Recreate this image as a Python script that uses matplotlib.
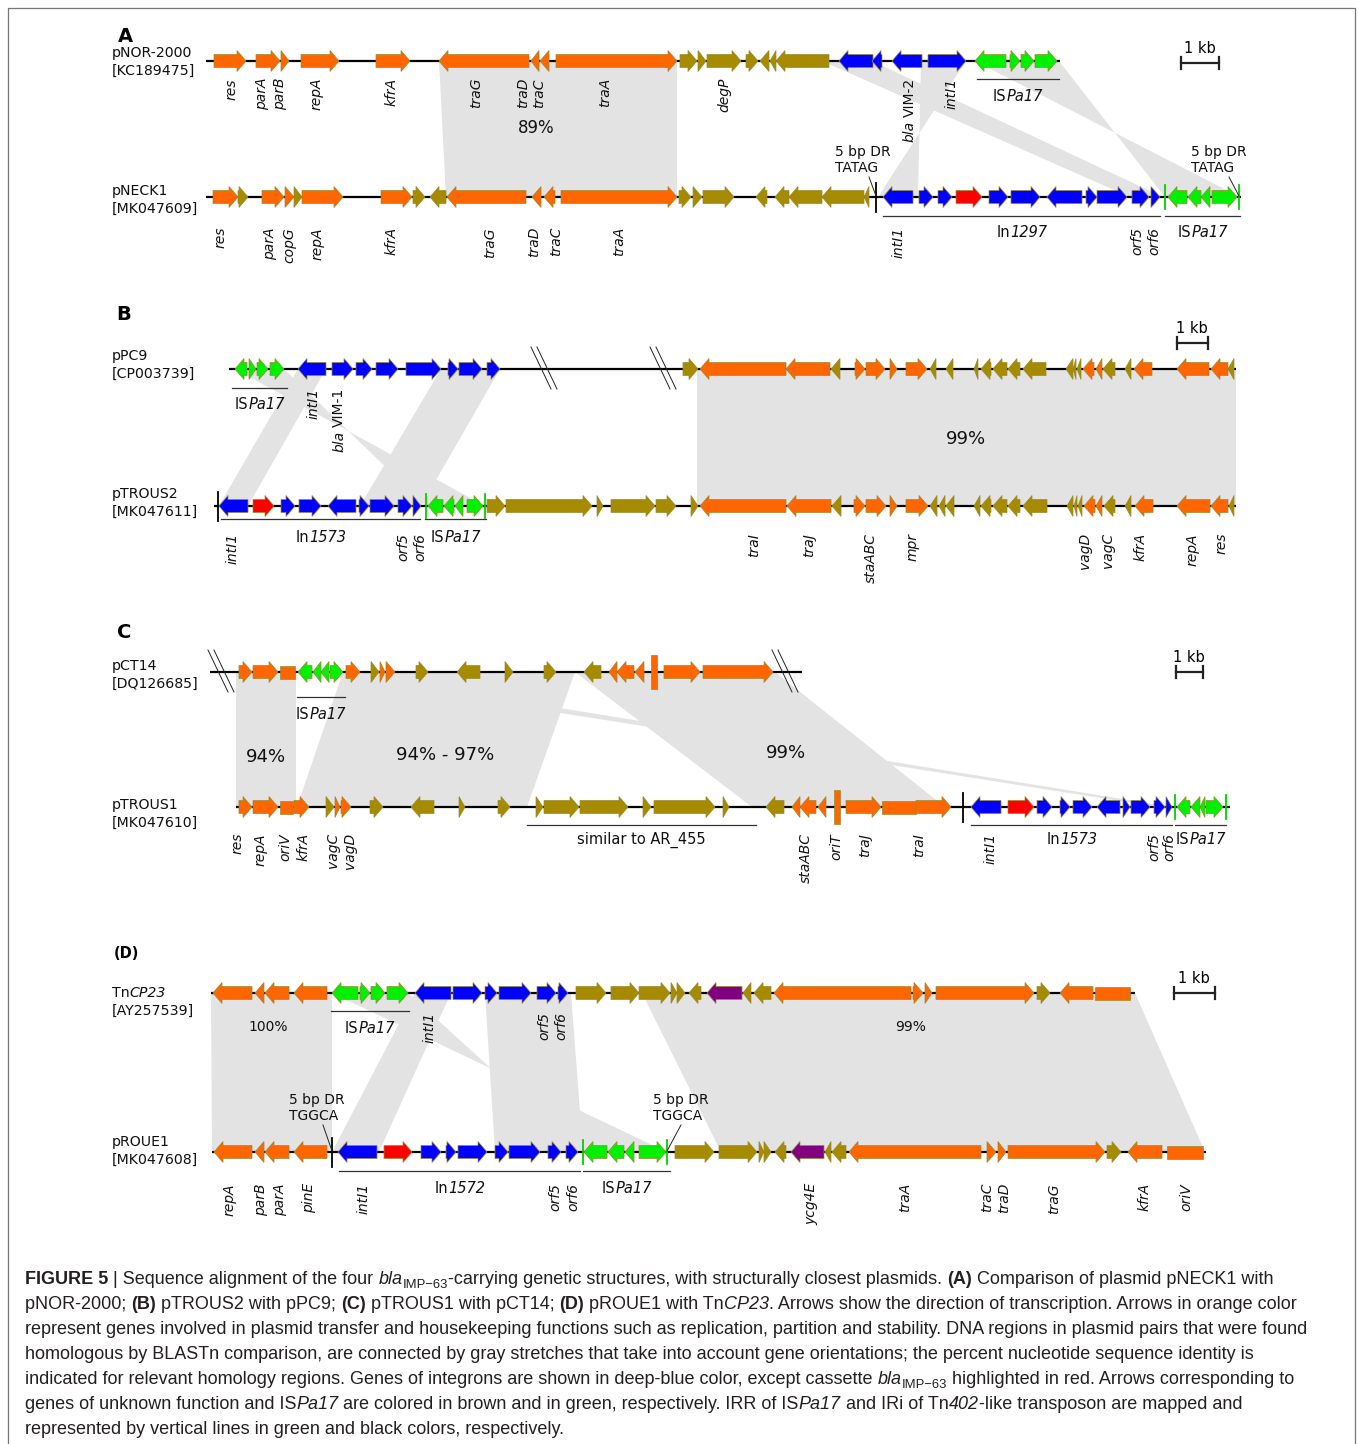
import matplotlib.pyplot as plt
from matplotlib.patches import Polygon

plt.rcParams['font.family'] = ['DejaVu Sans']

# gene classes
COLORS = {'o': '#FF6600',   # transfer / housekeeping
          'b': '#A68A00',   # unknown function
          'n': '#0000FF',   # integron genes
          'r': '#FF0000',   # blaIMP-63 cassette
          'g': '#00F000',   # ISPa17
          'p': '#800080'}
EDGE = '#9A8A30'

# ---------------- data: genes as (start, end, strand, class) in map units -------------
# strand 1 / -1 = arrow, 0 = box, 9 = oriT site bar
pNOR2000 = [(214, 246, 1, 'o'), (256, 280, 1, 'o'), (281, 289, 1, 'o'), (301, 339, 1, 'o'),
            (376, 410, 1, 'o'), (439, 529, -1, 'o'), (531, 539, -1, 'o'), (540, 549, -1, 'o'),
            (556, 677, 1, 'o'), (680, 697, 1, 'b'), (698, 706, 1, 'b'), (707, 741, 1, 'b'),
            (746, 758, 1, 'b'), (760, 769, -1, 'b'), (770, 776, -1, 'b'), (776, 829, -1, 'b'),
            (839, 873, -1, 'n'), (872, 882, -1, 'n'), (892, 922, -1, 'n'), (928, 966, 1, 'n'),
            (975, 1006, -1, 'g'), (1010, 1020, 1, 'g'), (1021, 1034, 1, 'g'), (1035, 1057, 1, 'g')]
pNECK1 = [(213, 238, 1, 'o'), (238, 248, 1, 'b'), (262, 284, 1, 'o'), (285, 294, 1, 'o'),
          (294, 302, 1, 'b'), (302, 343, 1, 'o'), (381, 412, 1, 'o'), (413, 425, 1, 'b'),
          (430, 446, -1, 'b'), (447, 526, -1, 'o'), (532, 541, -1, 'o'), (544, 555, -1, 'o'),
          (561, 677, 1, 'o'), (679, 691, 1, 'b'), (693, 702, 1, 'b'), (703, 734, 1, 'b'),
          (756, 767, -1, 'b'), (775, 789, -1, 'b'), (789, 822, -1, 'b'), (822, 864, -1, 'b'),
          (864, 869, -1, 'b'), (883, 913, -1, 'n'), (919, 933, 1, 'n'), (938, 952, 1, 'n'),
          (956, 982, 1, 'r'), (989, 1008, 1, 'n'), (1011, 1040, 1, 'n'), (1047, 1082, -1, 'n'),
          (1086, 1097, 1, 'n'), (1097, 1127, 1, 'n'), (1132, 1149, 1, 'n'), (1151, 1160, 1, 'n'),
          (1168, 1187, -1, 'g'), (1188, 1201, -1, 'g'), (1201, 1210, -1, 'g'), (1212, 1237, 1, 'g')]
pPC9 = [(235, 247, -1, 'g'), (249, 256, 1, 'g'), (257, 268, 1, 'g'), (270, 284, 1, 'g'),
        (298, 326, -1, 'n'), (332, 353, 1, 'n'), (356, 372, 1, 'n'), (376, 398, 1, 'n'),
        (406, 441, 1, 'n'), (448, 458, 1, 'n'), (459, 482, 1, 'n'), (487, 500, 1, 'n'),
        (683, 698, 1, 'b'), (700, 786, -1, 'o'), (786, 830, -1, 'o'), (831, 840, -1, 'b'),
        (855, 865, 1, 'o'), (866, 885, 1, 'o'), (890, 897, 1, 'o'), (906, 927, 1, 'o'),
        (930, 936, -1, 'b'), (946, 953, -1, 'b'), (974, 978, -1, 'b'), (981, 991, -1, 'b'),
        (993, 1007, -1, 'b'), (1008, 1020, -1, 'b'), (1023, 1046, -1, 'b'), (1066, 1073, -1, 'b'),
        (1073, 1076, -1, 'b'), (1077, 1081, -1, 'b'), (1083, 1094, -1, 'o'), (1096, 1102, -1, 'o'),
        (1103, 1115, -1, 'b'), (1125, 1131, -1, 'b'), (1134, 1152, -1, 'o'), (1177, 1209, -1, 'o'),
        (1211, 1228, -1, 'o'), (1228, 1234, -1, 'b')]
pTROUS2 = [(219, 248, -1, 'n'), (253, 274, 1, 'r'), (281, 295, 1, 'n'), (299, 321, 1, 'n'),
           (328, 356, -1, 'n'), (359, 369, 1, 'n'), (370, 394, 1, 'n'), (398, 412, 1, 'n'),
           (413, 421, 1, 'n'), (428, 443, -1, 'g'), (444, 454, -1, 'g'), (455, 463, -1, 'g'),
           (467, 483, 1, 'g'), (487, 505, 1, 'b'), (506, 592, 1, 'b'), (597, 603, 1, 'b'),
           (611, 655, 1, 'b'), (656, 676, 1, 'b'), (691, 698, 1, 'b'), (700, 786, -1, 'o'),
           (787, 831, -1, 'o'), (832, 841, -1, 'b'), (854, 865, 1, 'o'), (866, 886, 1, 'o'),
           (890, 897, 1, 'o'), (906, 928, 1, 'o'), (930, 937, -1, 'b'), (939, 945, -1, 'b'),
           (946, 954, -1, 'b'), (974, 980, -1, 'b'), (981, 991, -1, 'b'), (993, 1007, -1, 'b'),
           (1008, 1020, -1, 'b'), (1023, 1047, -1, 'b'), (1067, 1073, -1, 'b'), (1074, 1077, -1, 'b'),
           (1078, 1082, -1, 'b'), (1084, 1095, -1, 'o'), (1096, 1102, -1, 'o'), (1104, 1115, -1, 'b'),
           (1125, 1131, -1, 'b'), (1135, 1153, -1, 'o'), (1177, 1210, -1, 'o'), (1211, 1228, -1, 'o'),
           (1229, 1234, -1, 'b')]
pCT14 = [(239, 252, 1, 'o'), (253, 278, 1, 'o'), (280, 295, 0, 'o'), (298, 312, -1, 'g'),
         (313, 321, -1, 'g'), (321, 329, -1, 'g'), (330, 343, 1, 'g'), (346, 360, 1, 'o'),
         (371, 379, 1, 'b'), (380, 385, 1, 'o'), (386, 395, 1, 'o'), (416, 428, 1, 'b'),
         (457, 480, -1, 'b'), (505, 513, 1, 'b'), (544, 556, 1, 'b'), (584, 601, -1, 'b'),
         (609, 617, -1, 'o'), (617, 634, -1, 'o'), (635, 644, -1, 'o'), (651, 657, 9, 'o'),
         (664, 700, 1, 'o'), (703, 773, 1, 'o')]
pTROUS1 = [(239, 252, 1, 'o'), (253, 278, 1, 'o'), (280, 293, 0, 'o'), (294, 309, 1, 'o'),
           (326, 334, 1, 'b'), (335, 340, 1, 'o'), (341, 351, 1, 'o'), (370, 383, 1, 'b'),
           (411, 434, -1, 'b'), (459, 465, 1, 'b'), (498, 510, 1, 'b'), (536, 543, 1, 'b'),
           (544, 579, 1, 'b'), (580, 628, 1, 'b'), (643, 651, 1, 'b'), (654, 715, 1, 'b'),
           (723, 729, 1, 'b'), (766, 784, -1, 'b'), (792, 800, -1, 'o'), (800, 816, -1, 'o'),
           (818, 826, -1, 'o'), (834, 840, 9, 'o'), (846, 881, 1, 'o'), (882, 916, 0, 'o'),
           (916, 951, 1, 'o'), (971, 1001, -1, 'n'), (1008, 1034, 1, 'r'), (1037, 1052, 1, 'n'),
           (1060, 1070, 1, 'n'), (1073, 1092, 1, 'n'), (1097, 1120, -1, 'n'), (1123, 1130, 1, 'n'),
           (1131, 1150, 1, 'n'), (1154, 1165, 1, 'n'), (1166, 1172, 1, 'n'), (1177, 1190, -1, 'g'),
           (1191, 1200, -1, 'g'), (1200, 1205, -1, 'g'), (1206, 1223, 1, 'g')]
TnCP23 = [(213, 252, -1, 'o'), (255, 264, -1, 'o'), (265, 289, -1, 'o'), (294, 327, -1, 'o'),
          (332, 358, -1, 'g'), (360, 370, 1, 'g'), (371, 385, 1, 'g'), (387, 408, 1, 'g'),
          (415, 451, -1, 'n'), (453, 482, 1, 'n'), (485, 497, 1, 'n'), (499, 531, 1, 'n'),
          (537, 556, 1, 'n'), (558, 568, 1, 'n'), (576, 606, 1, 'b'), (611, 639, 1, 'b'),
          (639, 670, 1, 'b'), (671, 677, 1, 'b'), (677, 685, 1, 'b'), (689, 701, -1, 'b'),
          (707, 742, -1, 'p'), (743, 751, -1, 'b'), (754, 771, -1, 'b'), (774, 911, -1, 'o'),
          (913, 923, 1, 'o'), (925, 932, 1, 'o'), (936, 1034, 1, 'o'), (1037, 1050, 1, 'b'),
          (1060, 1093, -1, 'o'), (1095, 1130, 0, 'o')]
pROUE1 = [(214, 252, -1, 'o'), (255, 264, -1, 'o'), (265, 289, -1, 'o'), (294, 327, -1, 'o'),
          (338, 377, -1, 'n'), (384, 412, 1, 'r'), (421, 441, 1, 'n'), (446, 456, 1, 'n'),
          (458, 487, 1, 'n'), (495, 508, 1, 'n'), (509, 540, 1, 'n'), (548, 561, 1, 'n'),
          (566, 578, 1, 'n'), (584, 607, -1, 'g'), (608, 624, -1, 'g'), (625, 634, -1, 'g'),
          (639, 666, 1, 'g'), (675, 714, 1, 'b'), (719, 757, 1, 'b'), (759, 764, 1, 'b'),
          (764, 771, 1, 'b'), (775, 786, -1, 'b'), (791, 824, -1, 'p'), (825, 831, -1, 'b'),
          (832, 846, -1, 'b'), (849, 981, -1, 'o'), (987, 996, 1, 'o'), (998, 1006, 1, 'o'),
          (1008, 1105, 1, 'o'), (1107, 1121, 1, 'b'), (1128, 1162, -1, 'o'), (1167, 1203, 0, 'o')]

# inverted repeats (IRR of ISPa17 green, IRi black)
IR_pNECK1 = [(876, 'k'), (1165, 'g'), (1239, 'g')]
IR_pTROUS2 = [(218, 'k'), (426, 'g'), (485, 'g')]
IR_pTROUS1 = [(963, 'k'), (1175, 'g'), (1226, 'g')]
IR_pROUE1 = [(332, 'k'), (583, 'g'), (667, 'g')]

# BLASTn homologies: (top start, top end, bottom start, bottom end, inverted)
HOM_A = [(439, 677, 446, 677, False), (822, 872, 1130, 1163, False),
         (921, 966, 878, 918, True), (975, 1059, 1165, 1240, True)]
HOM_B = [(697, 1236, 697, 1236, False), (298, 326, 219, 248, False),
         (441, 500, 360, 421, False), (235, 284, 426, 485, True)]
HOM_C = [(236, 296, 236, 296, False), (343, 575, 297, 527, False),
         (300, 337, 1158, 1172, False), (575, 775, 752, 945, False)]
HOM_D = [(211, 332, 212, 332, False), (415, 451, 332, 379, False),
         (332, 408, 583, 667, True), (485, 571, 495, 583, False),
         (642, 1135, 721, 1205, False)]

IDENT_A = [('89%', 536, 128, 12)]
IDENT_B = [('99%', 966, 439, 13)]
IDENT_C = [('94%', 266, 757, 13), ('94% - 97%', 445, 755, 13), ('99%', 786, 753, 13)]
IDENT_D = [('100%', 268, 1027, 10), ('99%', 911, 1027, 10)]

# gene names (rotated, italic); "bla " prefix -> italic bla + roman allele
NAMES_pNOR2000 = [('res', 232), ('parA', 262), ('parB', 280), ('repA', 317), ('kfrA', 392),
                  ('traG', 476), ('traD', 523), ('traC', 539), ('traA', 605), ('degP', 724),
                  ('bla VIM-2', 910), ('intI1', 952)]
NAMES_pNECK1 = [('res', 221), ('parA', 270), ('copG', 289), ('repA', 318), ('kfrA', 392),
                ('traG', 490), ('traD', 534), ('traC', 556), ('traA', 619), ('intI1', 899),
                ('orf5', 1137), ('orf6', 1154)]
NAMES_pPC9 = [('intI1', 314), ('bla VIM-1', 339)]
NAMES_pTROUS2 = [('intI1', 233), ('orf5', 403), ('orf6', 420), ('traI', 754), ('traJ', 809),
                 ('staABC', 871), ('mpr', 913), ('vagD', 1085), ('vagC', 1108), ('kfrA', 1141),
                 ('repA', 1193), ('res', 1222)]
NAMES_pCT14 = []
NAMES_pTROUS1 = [('res', 238), ('repA', 261), ('oriV', 285), ('kfrA', 304), ('vagC', 333),
                 ('vagD', 350), ('staABC', 806), ('oriT', 836), ('traJ', 865), ('traI', 919),
                 ('intI1', 991), ('orf5', 1154), ('orf6', 1169)]
NAMES_TnCP23 = [('intI1', 430), ('orf5', 544), ('orf6', 561)]
NAMES_pROUE1 = [('repA', 230), ('parB', 261), ('parA', 280), ('pinE', 309), ('intI1', 364),
                ('orf5', 555), ('orf6', 573), ('ycg4E', 811), ('traA', 905), ('traC', 987),
                ('traD', 1004), ('traG', 1054), ('kfrA', 1145), ('oriV', 1186)]

# underlined elements: (label parts, start, end); part style 'n' roman, 'i' italic
IS = [('IS', 'n'), ('Pa17', 'i')]
ELEM_pNOR2000 = [(IS, 977, 1059)]
ELEM_pNECK1 = [([('In', 'n'), ('1297', 'i')], 883, 1160), (IS, 1165, 1240)]
ELEM_pPC9 = [(IS, 232, 287)]
ELEM_pTROUS2 = [([('In', 'n'), ('1573', 'i')], 221, 420), (IS, 425, 486)]
ELEM_pCT14 = [(IS, 297, 345)]
ELEM_pTROUS1 = [([('similar to AR_455', 'n')], 527, 756),
                ([('In', 'n'), ('1573', 'i')], 971, 1172), (IS, 1175, 1226)]
ELEM_TnCP23 = [(IS, 331, 409)]
ELEM_pROUE1 = [([('In', 'n'), ('1572', 'i')], 339, 580), (IS, 583, 670)]

# ---------------- layout -------------
# name parts, accession, genes, names, elements, line y, line start/end,
# name y, gene-name top y, underline y, element label y, IR marks, breaks
TRACKS = [
    ([('pNOR-2000', 'n')], 'KC189475', pNOR2000, NAMES_pNOR2000, ELEM_pNOR2000,
     61, 206, 1060, 62, 78, 79, 96, [], []),
    ([('pNECK1', 'n')], 'MK047609', pNECK1, NAMES_pNECK1, ELEM_pNECK1,
     197, 206, 1241, 200, 227, 216, 232, IR_pNECK1, []),
    ([('pPC9', 'n')], 'CP003739', pPC9, NAMES_pPC9, ELEM_pPC9,
     369, 229, 1236, 365, 388, 388, 404, [], [544, 663]),
    ([('pTROUS2', 'n')], 'MK047611', pTROUS2, NAMES_pTROUS2, ELEM_pTROUS2,
     506, 214, 1236, 503, 533, 519, 537, IR_pTROUS2, []),
    ([('pCT14', 'n')], 'DQ126685', pCT14, NAMES_pCT14, ELEM_pCT14,
     672, 210, 802, 675, 700, 697, 714, [], [221, 785]),
    ([('pTROUS1', 'n')], 'MK047610', pTROUS1, NAMES_pTROUS1, ELEM_pTROUS1,
     807, 236, 1230, 814, 833, 825, 839, IR_pTROUS1, []),
    ([('Tn', 'n'), ('CP23', 'i')], 'AY257539', TnCP23, NAMES_TnCP23, ELEM_TnCP23,
     993, 211, 1135, 1002, 1012, 1011, 1028, [], []),
    ([('pROUE1', 'n')], 'MK047608', pROUE1, NAMES_pROUE1, ELEM_pROUE1,
     1152, 212, 1206, 1151, 1183, 1171, 1188, IR_pROUE1, []),
]
PANELS = [('A', 125, 36, 14, HOM_A, IDENT_A, 0, 1200, 38, 2),
          ('B', 124, 315, 14, HOM_B, IDENT_B, 2, 1192, 31, -26),
          ('C', 124, 633, 14, HOM_C, IDENT_C, 4, 1189, 27, 0),
          ('(D)', 126, 953, 10.5, HOM_D, IDENT_D, 6, 1194, 41, 0)]
DR_NOTES = [('5 bp DR\nTATAG', 835, 145, (869, 177), (876, 196)),
            ('5 bp DR\nTATAG', 1191, 145, (1229, 177), (1239, 196)),
            ('5 bp DR\nTGGCA', 289, 1093, (323, 1125), (332, 1151)),
            ('5 bp DR\nTGGCA', 653, 1093, (681, 1125), (667, 1151))]

CAPTION = [
    [('FIGURE 5', 'b'), (' | Sequence alignment of the four ', 'n'), ('bla', 'i'), ('IMP\u221263', 's'),
     ('-carrying genetic structures, with structurally closest plasmids. ', 'n'), ('(A)', 'b'),
     (' Comparison of plasmid pNECK1 with', 'n')],
    [('pNOR-2000; ', 'n'), ('(B)', 'b'), (' pTROUS2 with pPC9; ', 'n'), ('(C)', 'b'),
     (' pTROUS1 with pCT14; ', 'n'), ('(D)', 'b'), (' pROUE1 with Tn', 'n'), ('CP23', 'i'),
     ('. Arrows show the direction of transcription. Arrows in orange color', 'n')],
    [('represent genes involved in plasmid transfer and housekeeping functions such as replication, '
      'partition and stability. DNA regions in plasmid pairs that were found', 'n')],
    [('homologous by BLASTn comparison, are connected by gray stretches that take into account gene '
      'orientations; the percent nucleotide sequence identity is', 'n')],
    [('indicated for relevant homology regions. Genes of integrons are shown in deep-blue color, '
      'except cassette ', 'n'), ('bla', 'i'), ('IMP\u221263', 's'),
     (' highlighted in red. Arrows corresponding to', 'n')],
    [('genes of unknown function and IS', 'n'), ('Pa17', 'i'),
     (' are colored in brown and in green, respectively. IRR of IS', 'n'), ('Pa17', 'i'),
     (' and IRi of Tn', 'n'), ('402', 'i'), ('-like transposon are mapped and', 'n')],
    [('represented by vertical lines in green and black colors, respectively.', 'n')],
]

BODY, HEADW, HEADL = 6.5, 10.5, 9

fig = plt.figure(figsize=(13.58, 14.44), dpi=100, facecolor='white')
ax = fig.add_axes([0, 0, 1, 1])
ax.set_xlim(0, 1358)
ax.set_ylim(1444, 0)
ax.axis('off')
R = fig.canvas.get_renderer()


def seg_style(code, size, family):
    kw = dict(fontsize=size, family=family)
    if code == 'i':
        kw['style'] = 'italic'
    elif code == 'b':
        kw['fontweight'] = 'bold'
    elif code == 's':
        kw['fontsize'] = size * 0.72
    return kw


def width(s, **kw):
    # measure with a trailing bar so that spaces count
    t = ax.text(0, 0, s + '|', **kw)
    w1 = t.get_window_extent(R).width
    t.set_text('|')
    w2 = t.get_window_extent(R).width
    t.remove()
    return w1 - w2


def mixed(x, y, parts, size=10.5, family='DejaVu Sans', ha='center', color='#111111', sub=4):
    ws = [width(s, **seg_style(c, size, family)) for s, c in parts]
    x0 = x - sum(ws) / 2 if ha == 'center' else x
    for (s, c), w in zip(parts, ws):
        dy = sub if c == 's' else 0
        ax.text(x0, y + dy, s, ha='left', va='baseline', color=color,
                **seg_style(c, size, family))
        x0 += w


def draw_gene(x0, x1, y, strand, kind):
    hl = min(HEADL, x1 - x0)
    if strand == 1:
        pts = [(x0, y - BODY), (x1 - hl, y - BODY), (x1 - hl, y - HEADW), (x1, y),
               (x1 - hl, y + HEADW), (x1 - hl, y + BODY), (x0, y + BODY)]
    elif strand == -1:
        pts = [(x1, y - BODY), (x0 + hl, y - BODY), (x0 + hl, y - HEADW), (x0, y),
               (x0 + hl, y + HEADW), (x0 + hl, y + BODY), (x1, y + BODY)]
    elif strand == 0:
        pts = [(x0, y - BODY), (x1, y - BODY), (x1, y + BODY), (x0, y + BODY)]
    else:
        pts = [(x0, y - 17), (x1, y - 17), (x1, y + 17), (x0, y + 17)]
    ax.add_patch(Polygon(pts, closed=True, fc=COLORS[kind], ec=EDGE, lw=0.5, zorder=4))


# homology stretches, identities, panel letters, scale bars
for letter, lx, ly, lsize, homs, idents, ti, sbx, sbl, sdy in PANELS:
    ytop = TRACKS[ti][5]
    ybot = TRACKS[ti + 1][5]
    for t0, t1, b0, b1, inv in homs:
        if inv:
            pts = [(t0, ytop), (t1, ytop), (b0, ybot), (b1, ybot)]
        else:
            pts = [(t0, ytop), (t1, ytop), (b1, ybot), (b0, ybot)]
        ax.add_patch(Polygon(pts, closed=True, fc='#E3E3E3', ec='none', zorder=1))
    for txt, x, y, fs in idents:
        ax.text(x, y, txt, ha='center', va='center', fontsize=fs, color='#111111', zorder=6)
    ax.text(lx, ly, letter, ha='center', va='center', fontsize=lsize, fontweight='bold')
    sy = ytop + sdy
    ax.plot([sbx - sbl / 2, sbx + sbl / 2], [sy, sy], color='#222222', lw=1.6, zorder=5)
    for xx in (sbx - sbl / 2, sbx + sbl / 2):
        ax.plot([xx, xx], [sy - 6, sy + 6], color='#222222', lw=1.6, zorder=5)
    ax.text(sbx, sy - 7, '1 kb', ha='center', va='bottom', fontsize=10.5)

for (name, acc, genes, names, elems, y, xs, xe, ny, ntop, uy, ly, irs, breaks) in TRACKS:
    ax.plot([xs, xe], [y, y], color='black', lw=1.6, zorder=2, solid_capstyle='butt')
    mixed(112, ny - 5, name, size=10.2, ha='left')
    ax.text(112, ny + 13, f'[{acc}]', ha='left', va='baseline', fontsize=10.2, color='#111111')
    for g in genes:
        draw_gene(g[0], g[1], y, g[2], g[3])
    for x, c in irs:
        if c == 'k':
            ax.plot([x, x], [y - 14, y + 15], color='black', lw=1.3, zorder=5)
        else:
            ax.plot([x, x], [y - 12, y + 12], color='#00D000', lw=1.3, zorder=5)
    for bx in breaks:
        for dx in (-3, 3):
            ax.plot([bx + dx - 10, bx + dx + 10], [y - 22, y + 20], color='#222222',
                    lw=0.7, zorder=5)
    for txt, x in names:
        if txt.startswith('bla '):
            t = ax.text(x, ntop, txt[4:], rotation=90, ha='center', va='top', fontsize=10,
                        color='#111111')
            h = t.get_window_extent(R).height
            ax.text(x, ntop + h + 4, 'bla', rotation=90, ha='center', va='top', fontsize=10,
                    style='italic', color='#111111')
        else:
            ax.text(x, ntop, txt, rotation=90, ha='center', va='top', fontsize=10,
                    style='italic', color='#111111')
    for parts, x0, x1 in elems:
        ax.plot([x0, x1], [uy, uy], color='#333333', lw=0.9, zorder=3)
        mixed((x0 + x1) / 2, ly + 5, parts, size=10.5)

for txt, tx, ty, p0, p1 in DR_NOTES:
    ax.text(tx, ty, txt, ha='left', va='top', fontsize=10, linespacing=1.15,
            color='#111111')
    ax.plot([p0[0], p1[0]], [p0[1], p1[1]], color='#222222', lw=0.7, zorder=5)

# frame
ax.plot([8, 8, 1355, 1355], [1444, 8, 8, 1444], color='#777777', lw=0.9)

for i, parts in enumerate(CAPTION):
    mixed(25, 1284 + 25 * i, parts, size=13.0, family='Liberation Sans', ha='left',
          color='#231f20', sub=4)

fig.savefig('out.png', dpi=100, facecolor='white')
